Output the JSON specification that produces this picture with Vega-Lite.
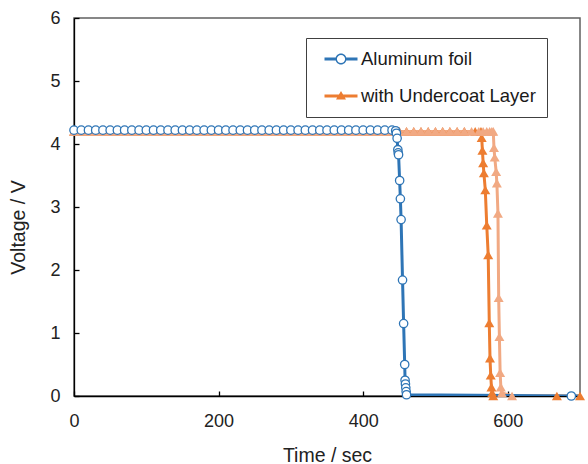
{
  "$schema": "https://vega.github.io/schema/vega-lite/v6.json",
  "width": 506,
  "height": 378,
  "autosize": {"type": "none"},
  "padding": {"left": 74, "top": 18, "right": 8, "bottom": 68},
  "background": "white",
  "config": {
    "font": "Liberation Sans",
    "view": {"stroke": "#606060", "strokeWidth": 1.5},
    "axis": {"grid": false, "labelFlush": false, "domainColor": "#000000", "domainWidth": 1.3, "tickColor": "#000000", "tickWidth": 1.3, "labelFont": "Liberation Sans", "labelFontSize": 18, "labelColor": "#222222", "titleFont": "Liberation Sans", "titleFontSize": 19.5, "titleFontWeight": "normal", "titleColor": "#222222"}
  },
  "data": {"values": [
    {"s":"Aluminum foil","t":0,"v":4.22},{"s":"Aluminum foil","t":10,"v":4.22},{"s":"Aluminum foil","t":20,"v":4.22},{"s":"Aluminum foil","t":30,"v":4.22},{"s":"Aluminum foil","t":40,"v":4.22},{"s":"Aluminum foil","t":50,"v":4.22},{"s":"Aluminum foil","t":60,"v":4.22},{"s":"Aluminum foil","t":70,"v":4.22},{"s":"Aluminum foil","t":80,"v":4.22},{"s":"Aluminum foil","t":90,"v":4.22},
    {"s":"Aluminum foil","t":100,"v":4.22},{"s":"Aluminum foil","t":110,"v":4.22},{"s":"Aluminum foil","t":120,"v":4.22},{"s":"Aluminum foil","t":130,"v":4.22},{"s":"Aluminum foil","t":140,"v":4.22},{"s":"Aluminum foil","t":150,"v":4.22},{"s":"Aluminum foil","t":160,"v":4.22},{"s":"Aluminum foil","t":170,"v":4.22},{"s":"Aluminum foil","t":180,"v":4.22},{"s":"Aluminum foil","t":190,"v":4.22},
    {"s":"Aluminum foil","t":200,"v":4.22},{"s":"Aluminum foil","t":210,"v":4.22},{"s":"Aluminum foil","t":220,"v":4.22},{"s":"Aluminum foil","t":230,"v":4.22},{"s":"Aluminum foil","t":240,"v":4.22},{"s":"Aluminum foil","t":250,"v":4.22},{"s":"Aluminum foil","t":260,"v":4.22},{"s":"Aluminum foil","t":270,"v":4.22},{"s":"Aluminum foil","t":280,"v":4.22},{"s":"Aluminum foil","t":290,"v":4.22},
    {"s":"Aluminum foil","t":300,"v":4.22},{"s":"Aluminum foil","t":310,"v":4.22},{"s":"Aluminum foil","t":320,"v":4.22},{"s":"Aluminum foil","t":330,"v":4.22},{"s":"Aluminum foil","t":340,"v":4.22},{"s":"Aluminum foil","t":350,"v":4.22},{"s":"Aluminum foil","t":360,"v":4.22},{"s":"Aluminum foil","t":370,"v":4.22},{"s":"Aluminum foil","t":380,"v":4.22},{"s":"Aluminum foil","t":390,"v":4.22},
    {"s":"Aluminum foil","t":400,"v":4.22},{"s":"Aluminum foil","t":410,"v":4.22},{"s":"Aluminum foil","t":420,"v":4.22},{"s":"Aluminum foil","t":430,"v":4.22},{"s":"Aluminum foil","t":440,"v":4.22},
    {"s":"Aluminum foil","t":445,"v":4.21},{"s":"Aluminum foil","t":446,"v":4.17},{"s":"Aluminum foil","t":447,"v":4.09},{"s":"Aluminum foil","t":448,"v":3.91},{"s":"Aluminum foil","t":448.5,"v":3.86},{"s":"Aluminum foil","t":449,"v":3.83},{"s":"Aluminum foil","t":450.5,"v":3.42},{"s":"Aluminum foil","t":451.5,"v":3.13},{"s":"Aluminum foil","t":452.5,"v":2.8},{"s":"Aluminum foil","t":454.5,"v":1.84},{"s":"Aluminum foil","t":456,"v":1.15},{"s":"Aluminum foil","t":457.5,"v":0.5},{"s":"Aluminum foil","t":458,"v":0.25},{"s":"Aluminum foil","t":458.5,"v":0.19},{"s":"Aluminum foil","t":459,"v":0.13},{"s":"Aluminum foil","t":459.5,"v":0.07},{"s":"Aluminum foil","t":460,"v":0.02},{"s":"Aluminum foil","t":688,"v":0},{"s":"Aluminum foil","t":720,"v":0},

    {"s":"with Undercoat Layer","t":0,"v":4.2},{"s":"with Undercoat Layer","t":10,"v":4.2},{"s":"with Undercoat Layer","t":20,"v":4.2},{"s":"with Undercoat Layer","t":30,"v":4.2},{"s":"with Undercoat Layer","t":40,"v":4.2},{"s":"with Undercoat Layer","t":50,"v":4.2},{"s":"with Undercoat Layer","t":60,"v":4.2},{"s":"with Undercoat Layer","t":70,"v":4.2},{"s":"with Undercoat Layer","t":80,"v":4.2},{"s":"with Undercoat Layer","t":90,"v":4.2},
    {"s":"with Undercoat Layer","t":100,"v":4.2},{"s":"with Undercoat Layer","t":110,"v":4.2},{"s":"with Undercoat Layer","t":120,"v":4.2},{"s":"with Undercoat Layer","t":130,"v":4.2},{"s":"with Undercoat Layer","t":140,"v":4.2},{"s":"with Undercoat Layer","t":150,"v":4.2},{"s":"with Undercoat Layer","t":160,"v":4.2},{"s":"with Undercoat Layer","t":170,"v":4.2},{"s":"with Undercoat Layer","t":180,"v":4.2},{"s":"with Undercoat Layer","t":190,"v":4.2},
    {"s":"with Undercoat Layer","t":200,"v":4.2},{"s":"with Undercoat Layer","t":210,"v":4.2},{"s":"with Undercoat Layer","t":220,"v":4.2},{"s":"with Undercoat Layer","t":230,"v":4.2},{"s":"with Undercoat Layer","t":240,"v":4.2},{"s":"with Undercoat Layer","t":250,"v":4.2},{"s":"with Undercoat Layer","t":260,"v":4.2},{"s":"with Undercoat Layer","t":270,"v":4.2},{"s":"with Undercoat Layer","t":280,"v":4.2},{"s":"with Undercoat Layer","t":290,"v":4.2},
    {"s":"with Undercoat Layer","t":300,"v":4.2},{"s":"with Undercoat Layer","t":310,"v":4.2},{"s":"with Undercoat Layer","t":320,"v":4.2},{"s":"with Undercoat Layer","t":330,"v":4.2},{"s":"with Undercoat Layer","t":340,"v":4.2},{"s":"with Undercoat Layer","t":350,"v":4.2},{"s":"with Undercoat Layer","t":360,"v":4.2},{"s":"with Undercoat Layer","t":370,"v":4.2},{"s":"with Undercoat Layer","t":380,"v":4.2},{"s":"with Undercoat Layer","t":390,"v":4.2},
    {"s":"with Undercoat Layer","t":400,"v":4.2},{"s":"with Undercoat Layer","t":410,"v":4.2},{"s":"with Undercoat Layer","t":420,"v":4.2},{"s":"with Undercoat Layer","t":430,"v":4.2},{"s":"with Undercoat Layer","t":440,"v":4.2},{"s":"with Undercoat Layer","t":450,"v":4.2},{"s":"with Undercoat Layer","t":460,"v":4.2},{"s":"with Undercoat Layer","t":470,"v":4.2},{"s":"with Undercoat Layer","t":480,"v":4.2},{"s":"with Undercoat Layer","t":490,"v":4.2},
    {"s":"with Undercoat Layer","t":500,"v":4.2},{"s":"with Undercoat Layer","t":510,"v":4.2},{"s":"with Undercoat Layer","t":520,"v":4.2},{"s":"with Undercoat Layer","t":530,"v":4.2},{"s":"with Undercoat Layer","t":540,"v":4.2},{"s":"with Undercoat Layer","t":555,"v":4.2},{"s":"with Undercoat Layer","t":563,"v":4.2},
    {"s":"with Undercoat Layer","t":564,"v":4.1},{"s":"with Undercoat Layer","t":565,"v":3.9},{"s":"with Undercoat Layer","t":566,"v":3.7},{"s":"with Undercoat Layer","t":567,"v":3.54},{"s":"with Undercoat Layer","t":569,"v":3.27},{"s":"with Undercoat Layer","t":571,"v":2.71},{"s":"with Undercoat Layer","t":573,"v":2.24},{"s":"with Undercoat Layer","t":574.5,"v":1.16},{"s":"with Undercoat Layer","t":575.5,"v":0.6},{"s":"with Undercoat Layer","t":576.5,"v":0.33},{"s":"with Undercoat Layer","t":577.5,"v":0.14},{"s":"with Undercoat Layer","t":578.5,"v":0.05},{"s":"with Undercoat Layer","t":580,"v":0},{"s":"with Undercoat Layer","t":668,"v":0},{"s":"with Undercoat Layer","t":700,"v":0},

    {"s":"repeat","t":0,"v":4.2},{"s":"repeat","t":10,"v":4.2},{"s":"repeat","t":20,"v":4.2},{"s":"repeat","t":30,"v":4.2},{"s":"repeat","t":40,"v":4.2},{"s":"repeat","t":50,"v":4.2},{"s":"repeat","t":60,"v":4.2},{"s":"repeat","t":70,"v":4.2},{"s":"repeat","t":80,"v":4.2},{"s":"repeat","t":90,"v":4.2},
    {"s":"repeat","t":100,"v":4.2},{"s":"repeat","t":110,"v":4.2},{"s":"repeat","t":120,"v":4.2},{"s":"repeat","t":130,"v":4.2},{"s":"repeat","t":140,"v":4.2},{"s":"repeat","t":150,"v":4.2},{"s":"repeat","t":160,"v":4.2},{"s":"repeat","t":170,"v":4.2},{"s":"repeat","t":180,"v":4.2},{"s":"repeat","t":190,"v":4.2},
    {"s":"repeat","t":200,"v":4.2},{"s":"repeat","t":210,"v":4.2},{"s":"repeat","t":220,"v":4.2},{"s":"repeat","t":230,"v":4.2},{"s":"repeat","t":240,"v":4.2},{"s":"repeat","t":250,"v":4.2},{"s":"repeat","t":260,"v":4.2},{"s":"repeat","t":270,"v":4.2},{"s":"repeat","t":280,"v":4.2},{"s":"repeat","t":290,"v":4.2},
    {"s":"repeat","t":300,"v":4.2},{"s":"repeat","t":310,"v":4.2},{"s":"repeat","t":320,"v":4.2},{"s":"repeat","t":330,"v":4.2},{"s":"repeat","t":340,"v":4.2},{"s":"repeat","t":350,"v":4.2},{"s":"repeat","t":360,"v":4.2},{"s":"repeat","t":370,"v":4.2},{"s":"repeat","t":380,"v":4.2},{"s":"repeat","t":390,"v":4.2},
    {"s":"repeat","t":400,"v":4.2},{"s":"repeat","t":410,"v":4.2},{"s":"repeat","t":420,"v":4.2},{"s":"repeat","t":430,"v":4.2},{"s":"repeat","t":440,"v":4.2},{"s":"repeat","t":450,"v":4.2},{"s":"repeat","t":460,"v":4.2},{"s":"repeat","t":470,"v":4.2},{"s":"repeat","t":480,"v":4.2},{"s":"repeat","t":490,"v":4.2},
    {"s":"repeat","t":500,"v":4.2},{"s":"repeat","t":510,"v":4.2},{"s":"repeat","t":520,"v":4.2},{"s":"repeat","t":530,"v":4.2},{"s":"repeat","t":540,"v":4.2},{"s":"repeat","t":550,"v":4.2},{"s":"repeat","t":560,"v":4.2},{"s":"repeat","t":566,"v":4.2},{"s":"repeat","t":571,"v":4.2},{"s":"repeat","t":575,"v":4.2},{"s":"repeat","t":578,"v":4.2},{"s":"repeat","t":580,"v":4.2},
    {"s":"repeat","t":581,"v":3.94},{"s":"repeat","t":582,"v":3.79},{"s":"repeat","t":584,"v":3.56},{"s":"repeat","t":585,"v":3.38},{"s":"repeat","t":586.5,"v":2.9},{"s":"repeat","t":587.5,"v":1.56},{"s":"repeat","t":588.5,"v":0.94},{"s":"repeat","t":589.5,"v":0.37},{"s":"repeat","t":590.5,"v":0.14},{"s":"repeat","t":592,"v":0.05},{"s":"repeat","t":606,"v":0}
  ]},
  "encoding": {
    "x": {"field": "t", "type": "quantitative", "scale": {"domain": [0, 700], "nice": false, "zero": false},
      "axis": {"title": "Time / sec", "values": [0, 200, 400, 600], "tickSize": -5, "labelPadding": 21, "titleX": 253, "titleY": 65, "titleBaseline": "alphabetic"}},
    "y": {"field": "v", "type": "quantitative", "scale": {"domain": [0, 6], "nice": false},
      "axis": {"title": "Voltage / V", "values": [0, 1, 2, 3, 4, 5, 6], "tickSize": -5, "labelPadding": 19, "titleX": -50, "titleY": 209, "titleBaseline": "alphabetic"}}
  },
  "layer": [
    {"transform": [{"filter": "datum.s === 'with Undercoat Layer'"}], "mark": {"type": "line", "strokeWidth": 3, "clip": true},
      "encoding": {"color": {"field": "s", "type": "nominal",
        "scale": {"domain": ["Aluminum foil", "with Undercoat Layer", "repeat"], "range": ["#2E75B6", "#ED7D31", "#F1A983"]},
        "legend": {
          "values": ["Aluminum foil", "with Undercoat Layer"],
          "title": null, "orient": "none", "legendX": 232, "legendY": 20,
          "padding": 11, "strokeColor": "#404040", "fillColor": "white",
          "labelFont": "Liberation Sans", "labelFontSize": 18.5, "labelColor": "#1a1a1a", "labelLimit": 400,
          "symbolSize": 400, "clipHeight": 20, "rowPadding": 17, "symbolOffset": 14, "labelOffset": 10,
          "encode": {
            "symbols": {"update": {
            "shape": {"signal": "datum.value === 'Aluminum foil' ? 'M-1.65,-0.15H-0.5V0.15H-1.65Z M0.5,-0.15H1.65V0.15H0.5Z M-0.55,0A0.55,0.55 0 1,1 0.55,0A0.55,0.55 0 1,1 -0.55,0Z M-0.41,0A0.41,0.41 0 1,0 0.41,0A0.41,0.41 0 1,0 -0.41,0Z' : 'M-1.65,-0.15H1.65V0.15H-1.65Z M0,-0.5L0.5,0.35L-0.5,0.35Z'"},
            "fill": {"signal": "datum.value === 'Aluminum foil' ? '#2E75B6' : '#ED7D31'"},
            "stroke": {"value": "transparent"},
            "strokeWidth": {"value": 0},
            "size": {"value": 400},
            "opacity": {"value": 1},
            "fillOpacity": {"value": 1}
          }}}
        }}}},
    {"transform": [{"filter": "datum.s === 'repeat'"}], "mark": {"type": "line", "strokeWidth": 3, "clip": true},
      "encoding": {"color": {"field": "s", "type": "nominal"}}},
    {"transform": [{"filter": "datum.s === 'Aluminum foil'"}], "mark": {"type": "line", "strokeWidth": 3, "clip": true},
      "encoding": {"color": {"field": "s", "type": "nominal"}}},
    {"transform": [{"filter": "datum.s === 'with Undercoat Layer'"}], "mark": {"type": "point", "shape": "triangle-up", "filled": true, "size": 100, "opacity": 1},
      "encoding": {"color": {"field": "s", "type": "nominal"}}},
    {"transform": [{"filter": "datum.s === 'repeat'"}], "mark": {"type": "point", "shape": "triangle-up", "filled": true, "size": 100, "opacity": 1},
      "encoding": {"color": {"field": "s", "type": "nominal"}}},
    {"transform": [{"filter": "datum.s === 'Aluminum foil' && datum.t <= 700"}], "mark": {"type": "point", "shape": "circle", "filled": false, "fill": "white", "size": 70, "strokeWidth": 1.3, "opacity": 1},
      "encoding": {"color": {"field": "s", "type": "nominal"}}}
  ]
}
